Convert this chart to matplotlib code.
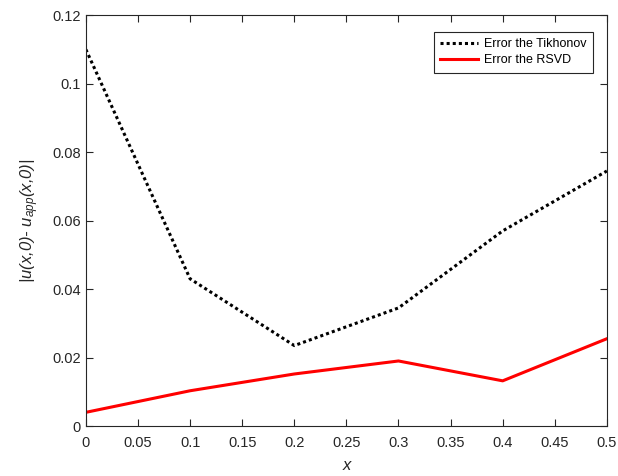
import numpy as np
import matplotlib
matplotlib.use('Agg')
import matplotlib.pyplot as plt

plt.rcParams['font.family'] = ['Liberation Sans', 'DejaVu Sans']
plt.rcParams['mathtext.fontset'] = 'custom'
plt.rcParams['mathtext.it'] = 'Liberation Sans:italic'
plt.rcParams['mathtext.rm'] = 'Liberation Sans:italic'

x = [0, 0.1, 0.2, 0.3, 0.4, 0.5]
err_tikhonov = [0.110, 0.043, 0.0235, 0.0345, 0.057, 0.0745]
err_rsvd = [0.004, 0.0103, 0.0152, 0.019, 0.0132, 0.0255]

xticks = np.arange(0, 0.51, 0.05)
xticklabels = ['0', '0.05', '0.1', '0.15', '0.2', '0.25', '0.3', '0.35', '0.4', '0.45', '0.5']
yticks = [0, 0.02, 0.04, 0.06, 0.08, 0.1, 0.12]
yticklabels = ['0', '0.02', '0.04', '0.06', '0.08', '0.1', '0.12']

fig = plt.figure(figsize=(6.18, 4.76), dpi=100)
ax = fig.add_axes([0.139, 0.105, 0.843, 0.863])

ax.plot(x, err_tikhonov, color='black', linestyle=(0, (1, 1)), linewidth=2.2,
        label='Error the Tikhonov')
ax.plot(x, err_rsvd, color='red', linewidth=2.2, label='Error the RSVD')

ax.set_xlim(0, 0.5)
ax.set_ylim(0, 0.12)
ax.set_xticks(xticks)
ax.set_xticklabels(xticklabels)
ax.set_yticks(yticks)
ax.set_yticklabels(yticklabels)
ax.tick_params(direction='in', length=5, width=0.8, colors='#262626',
               labelsize=10.5, top=True, right=True, labeltop=False, labelright=False)
ax.tick_params(axis='x', pad=7)
for s in ax.spines.values():
    s.set_color('#262626')
    s.set_linewidth(0.8)

ax.set_xlabel('x', fontsize=12, style='italic', color='#262626', labelpad=6)
ax.set_ylabel('|u(x,0)- u$_{app}$(x,0)|', fontsize=12, style='italic',
              color='#262626', labelpad=8)

leg = ax.legend(loc='upper right', bbox_to_anchor=(0.985, 0.975), fontsize=9,
                fancybox=False, framealpha=1, edgecolor='#262626',
                handlelength=3.0, handletextpad=0.5, borderpad=0.5, labelspacing=0.35)
leg.get_frame().set_linewidth(0.8)

fig.savefig('out.png', dpi=100)
